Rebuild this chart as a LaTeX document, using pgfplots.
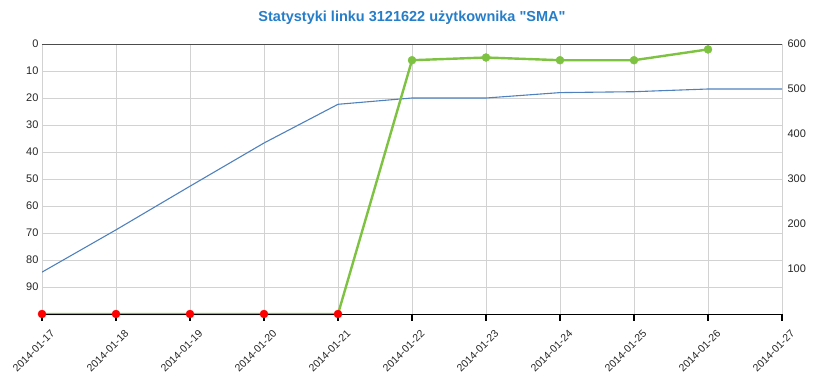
\documentclass[border=0pt]{standalone}
\usepackage{pgfplots}
\pgfplotsset{compat=1.18}
\usepackage{fontspec}
\setmainfont{Liberation Sans}
\definecolor{tblue}{RGB}{38,125,200}
\definecolor{lblue}{RGB}{79,129,189}
\definecolor{lgreen}{RGB}{126,194,66}
\definecolor{gridc}{RGB}{210,210,210}
\begin{document}
\begin{tikzpicture}
\useasboundingbox (-42bp,-65bp) rectangle (778bp,314bp);
% x axis: labels, vertical grid, title
\begin{axis}[scale only axis, width=740bp, height=270bp, at={(0,0)}, anchor=south west,
  xmin=0, xmax=10, xtick={0,...,10},
  xticklabels={2014-01-17,2014-01-18,2014-01-19,2014-01-20,2014-01-21,2014-01-22,2014-01-23,2014-01-24,2014-01-25,2014-01-26,2014-01-27},
  xmajorgrids, major grid style={gridc, line width=0.7bp},
  ymin=0, ymax=600, ytick=\empty,
  axis line style={draw=none},
  xtick pos=bottom, tick align=outside,
  major tick length=6bp,
  xtick style={draw=black, line width=1.2bp},
  xticklabel style={rotate=45, anchor=east, yshift=-16bp, xshift=2.5bp, font=\fontsize{10.5bp}{12bp}\selectfont, text=black!85},
  title={Statystyki linku 3121622 użytkownika \textquotedbl SMA\textquotedbl},
  title style={at={(0.5,1)}, anchor=south, yshift=13bp, inner sep=0pt,
    font=\bfseries\fontsize{14.5bp}{17bp}\selectfont, text=tblue},
]
\draw[black!70, line width=1bp] (axis cs:0,600) -- (axis cs:10,600);
\end{axis}
% left axis: y labels and horizontal grid
\begin{axis}[scale only axis, width=740bp, height=270bp, at={(0,0)}, anchor=south west,
  xmin=0, xmax=10, xtick=\empty,
  ymin=0, ymax=100, y dir=reverse, ytick={10,20,...,90}, extra y ticks={0},
  ymajorgrids, major grid style={gridc, line width=0.7bp},
  axis line style={draw=none}, ytick style={draw=none},
  ytick pos=left,
  /pgf/number format/assume math mode=true,
  yticklabel style={font=\fontsize{11bp}{13bp}\selectfont, text=black!85},
  extra y tick style={grid=none},
]
\end{axis}
% right axis: right labels, blue series
\begin{axis}[scale only axis, width=740bp, height=270bp, at={(0,0)}, anchor=south west,
  xmin=0, xmax=10, xtick=\empty,
  ymin=0, ymax=600, ytick={100,200,...,600},
  axis line style={draw=none}, ytick pos=right, yticklabel pos=right,
  ytick style={draw=none},
  /pgf/number format/assume math mode=true,
  yticklabel style={font=\fontsize{11bp}{13bp}\selectfont, text=black!85, xshift=2bp},
]
\addplot[lblue, line width=1.1bp] coordinates {
  (0,93) (1,187) (2,284) (3,380) (4,466) (5,480) (6,480) (7,492) (8,494) (9,500) (10,500)};
\end{axis}
% overlay: green and red series on reversed left scale
\begin{axis}[scale only axis, width=740bp, height=270bp, at={(0,0)}, anchor=south west,
  xmin=0, xmax=10, ymin=0, ymax=100, y dir=reverse, hide axis, clip=false]
\addplot[lgreen, line width=2.4bp] coordinates {
  (0,100) (1,100) (2,100) (3,100) (4,100) (5,6) (6,5) (7,6) (8,6) (9,2)};
\draw[black, line width=1.3bp] (axis cs:0,100.3) -- (axis cs:10,100.3);
\pgfplotsinvokeforeach{0,...,10}{
  \draw[black, line width=1.2bp] (axis cs:#1,100) -- ([yshift=-6.5bp]axis cs:#1,100);
}
\addplot[only marks, mark=*, mark size=4bp, lgreen] coordinates {
  (5,6) (6,5) (7,6) (8,6) (9,2)};
\addplot[only marks, mark=*, mark size=4bp, red] coordinates {
  (0,100) (1,100) (2,100) (3,100) (4,100)};
\end{axis}
\end{tikzpicture}
\end{document}
